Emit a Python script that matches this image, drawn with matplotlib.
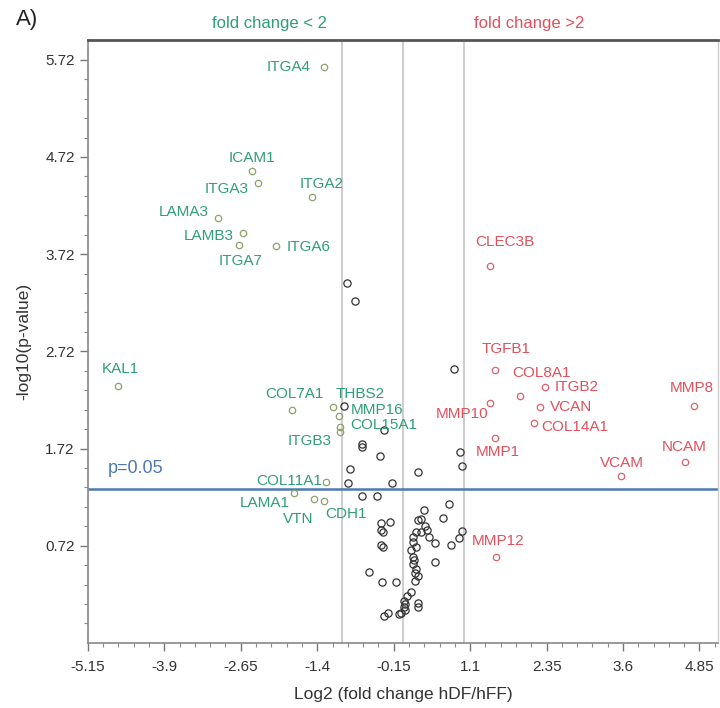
import numpy as np
import matplotlib
matplotlib.use('Agg')
import matplotlib.pyplot as plt
from matplotlib.ticker import FixedLocator

plt.rcParams['font.family'] = ['Liberation Sans', 'DejaVu Sans']

# genes with fold change < 2 (green)
green_names = ['ITGA4', 'ICAM1', 'ITGA3', 'ITGA2', 'LAMA3', 'LAMB3', 'ITGA7', 'ITGA6',
               'KAL1', 'COL7A1', 'THBS2', 'MMP16', 'COL15A1', 'ITGB3',
               'COL11A1', 'LAMA1', 'VTN', 'CDH1']
green_x = [-1.29, -2.46, -2.37, -1.48, -3.02, -2.61, -2.68, -2.07,
           -4.66, -1.81, -1.15, -1.04, -1.03, -1.03,
           -1.25, -1.78, -1.45, -1.29]
green_y = [5.65, 4.58, 4.45, 4.31, 4.09, 3.94, 3.81, 3.80,
           2.36, 2.12, 2.15, 2.05, 1.94, 1.89,
           1.38, 1.26, 1.20, 1.18]

# genes with fold change > 2 (red)
red_names = ['CLEC3B', 'TGFB1', 'COL8A1', 'ITGB2', 'VCAN', 'COL14A1', 'MMP10', 'MMP1',
             'MMP8', 'NCAM', 'VCAM', 'MMP12']
red_x = [1.42, 1.50, 1.92, 2.32, 2.25, 2.14, 1.42, 1.51, 4.76, 4.61, 3.56, 1.53]
red_y = [3.60, 2.53, 2.26, 2.35, 2.15, 1.98, 2.19, 1.83, 2.16, 1.58, 1.44, 0.60]

# the rest (black)
black_x = [-0.91, -0.78, -0.97, -0.30, -0.66, -0.66, -0.37, -0.86, 0.24, -0.89,
           -0.17, -0.66, -0.43, 0.93, 0.97, 0.84, 0.76, 0.35, 0.66, 0.25,
           -0.35, -0.21, -0.35, 0.37, 0.22, 0.30, 0.40, 0.17, 0.43, 0.52,
           0.97, 0.92, 0.78, 0.17, -0.35, -0.32, 0.17, 0.19, 0.17, 0.52,
           0.22, 0.25, 0.20, -0.55, -0.34, -0.12, 0.14, 0.07, 0.02, 0.04,
           0.24, 0.24, 0.02, -0.03, -0.06, -0.24, -0.30, 0.20, -0.32, 0.22,
           0.14, 0.30, 0.04]
black_y = [3.42, 3.24, 2.16, 1.91, 1.77, 1.74, 1.64, 1.51, 1.48, 1.36,
           1.37, 1.23, 1.23, 1.68, 1.54, 2.54, 1.15, 1.09, 1.01, 0.98,
           0.95, 0.96, 0.88, 0.92, 0.86, 0.86, 0.88, 0.81, 0.81, 0.75,
           0.87, 0.80, 0.73, 0.76, 0.73, 0.71, 0.60, 0.57, 0.53, 0.55,
           0.48, 0.41, 0.36, 0.45, 0.35, 0.35, 0.24, 0.20, 0.15, 0.12,
           0.13, 0.09, 0.09, 0.03, 0.02, 0.03, 0.00, 0.44, 0.86, 0.71,
           0.68, 0.99, 0.06]

xtick_vals = [-5.15, -3.9, -2.65, -1.4, -0.15, 1.1, 2.35, 3.6, 4.85]
xtick_labels = ['-5.15', '-3.9', '-2.65', '-1.4', '-0.15', '1.1', '2.35', '3.6', '4.85']
ytick_vals = [0.72, 1.72, 2.72, 3.72, 4.72, 5.72]
ytick_labels = ['0.72', '1.72', '2.72', '3.72', '4.72', '5.72']

# label placement: (dx, dy) in pixels, ha
green_lab = {
    'ITGA4': (-13, 0, 'right'), 'ICAM1': (0, 13, 'center'), 'ITGA3': (-9, -6, 'right'),
    'ITGA2': (9, 13, 'center'), 'LAMA3': (-9, 6, 'right'), 'LAMB3': (-9, -3, 'right'),
    'ITGA7': (2, -16, 'center'), 'ITGA6': (10, -1, 'left'), 'KAL1': (3, 17, 'center'),
    'COL7A1': (2, 16, 'center'), 'THBS2': (3, 13, 'left'), 'MMP16': (12, 6, 'left'),
    'COL15A1': (10, 2, 'left'), 'ITGB3': (-8, -9, 'right'), 'COL11A1': (-4, 1, 'right'),
    'LAMA1': (-4, -10, 'right'), 'VTN': (-16, -20, 'center'), 'CDH1': (22, -13, 'center'),
}
red_lab = {
    'CLEC3B': (15, 24, 'center'), 'TGFB1': (12, 21, 'center'), 'COL8A1': (21, 23, 'center'),
    'ITGB2': (10, 0, 'left'), 'VCAN': (9, 0, 'left'), 'COL14A1': (8, -4, 'left'),
    'MMP10': (-1, -11, 'right'), 'MMP1': (3, -14, 'center'), 'MMP8': (-2, 18, 'center'),
    'NCAM': (-1, 15, 'center'), 'VCAM': (1, 13, 'center'), 'MMP12': (2, 16, 'center'),
}

green_txt = '#2f9e78'
red_txt = '#e2505c'

fig = plt.figure(figsize=(7.2, 7.08), dpi=100)
ax = fig.add_axes([0.122, 0.092, 0.875, 0.851])

ax.axvline(-1, color='#c8c8c8', lw=1.3, zorder=1)
ax.axvline(0, color='#c8c8c8', lw=1.3, zorder=1)
ax.axvline(1, color='#c8c8c8', lw=1.3, zorder=1)
ax.axhline(-np.log10(0.05), color='#4d79b3', lw=1.8, zorder=2)

ax.plot(black_x, black_y, 'o', mfc='none', mec='#333333', ms=5.2, mew=0.9, zorder=3)
ax.plot(green_x, green_y, 'o', mfc='none', mec='#8ea36c', ms=4.6, mew=0.9, zorder=3)
ax.plot(red_x, red_y, 'o', mfc='none', mec='#e0606c', ms=4.6, mew=0.9, zorder=3)

for n, x, y in zip(green_names, green_x, green_y):
    dx, dy, ha = green_lab[n]
    ax.annotate(n, (x, y), xytext=(dx, dy), textcoords='offset pixels',
                ha=ha, va='center', color=green_txt, fontsize=11)
for n, x, y in zip(red_names, red_x, red_y):
    dx, dy, ha = red_lab[n]
    ax.annotate(n, (x, y), xytext=(dx, dy), textcoords='offset pixels',
                ha=ha, va='center', color=red_txt, fontsize=11)

ax.text(-4.82, 1.47, 'p=0.05', color='#4d79b3', fontsize=13)

ax.set_xlim(-5.15, 5.15)
ax.set_ylim(-0.28, 5.92)
ax.set_xticks(xtick_vals)
ax.set_xticklabels(xtick_labels)
ax.set_yticks(ytick_vals)
ax.set_yticklabels(ytick_labels)
ax.xaxis.set_minor_locator(FixedLocator(np.arange(-5.15, 5.16, 0.25)))
ax.yaxis.set_minor_locator(FixedLocator(np.arange(-0.08, 5.9, 0.2)))
ax.tick_params(which='major', length=6, width=1, color='#777777', labelsize=11, labelcolor='#333333')
ax.tick_params(which='minor', length=3, width=0.8, color='#888888')
ax.tick_params(axis='x', pad=6)

ax.spines['top'].set_color('#555555')
ax.spines['top'].set_linewidth(2)
ax.spines['left'].set_color('#888888')
ax.spines['left'].set_linewidth(1.2)
ax.spines['bottom'].set_color('#888888')
ax.spines['bottom'].set_linewidth(1.2)
ax.spines['right'].set_color('#cccccc')
ax.spines['right'].set_linewidth(1)

ax.set_xlabel('Log2 (fold change hDF/hFF)', fontsize=12.5, color='#333333', labelpad=10)
ax.set_ylabel('-log10(p-value)', fontsize=12.5, color='#333333', labelpad=10)

fig.text(0.022, 0.972, 'A)', fontsize=16, ha='left', va='center', color='#222222')
fig.text(0.375, 0.967, 'fold change < 2', fontsize=12, ha='center', va='center', color=green_txt)
fig.text(0.735, 0.967, 'fold change >2', fontsize=12, ha='center', va='center', color=red_txt)

fig.savefig('out.png', dpi=100)
